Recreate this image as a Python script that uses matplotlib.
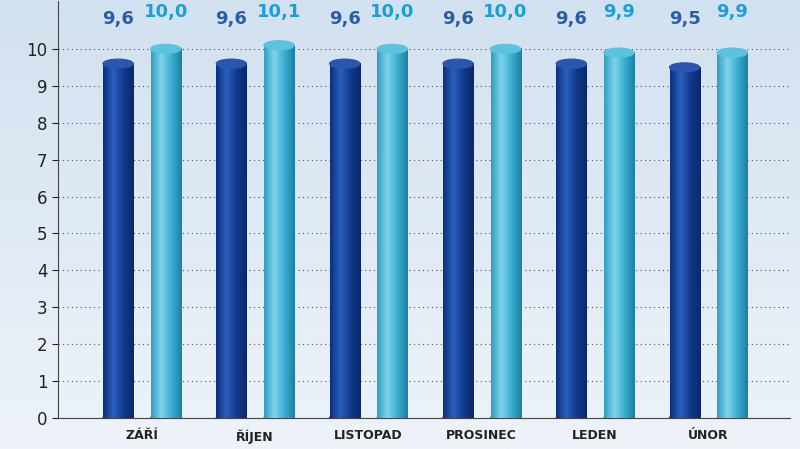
import matplotlib.pyplot as plt
import numpy as np
from matplotlib.patches import Ellipse

categories = ["ZÁŘÍ", "ŘÍJEN", "LISTOPAD", "PROSINEC", "LEDEN", "ÚNOR"]
series_a = [9.6, 9.6, 9.6, 9.6, 9.6, 9.5]
series_b = [10.0, 10.1, 10.0, 10.0, 9.9, 9.9]
labels_a = ["9,6", "9,6", "9,6", "9,6", "9,6", "9,5"]
labels_b = ["10,0", "10,1", "10,0", "10,0", "9,9", "9,9"]

fig = plt.figure(figsize=(8, 4.49), dpi=100)
# background
bg = fig.add_axes([0, 0, 1, 1])
grad = np.linspace(0, 1, 256).reshape(-1, 1)
bg.imshow(grad, extent=[0, 1, 0, 1], aspect="auto",
          cmap=plt.matplotlib.colors.LinearSegmentedColormap.from_list("bg", ["#d2e1f0", "#eef3f9"]))
bg.axis("off")

ax = fig.add_axes([0.0725, 0.069, 0.915, 0.929])
ax.patch.set_alpha(0)
ax.set_xlim(-0.74, 5.72)
ax.set_ylim(0, 11.3)
ax.set_yticks(range(0, 11))
ax.tick_params(axis="y", labelsize=12, length=4, colors="#222222")
ax.tick_params(axis="x", length=0, labelsize=9, pad=8)
ax.set_xticks(range(len(categories)))
ax.set_xticklabels(categories, fontweight="bold", color="#222222")
ax.grid(axis="y", linestyle=(0, (1, 3)), color="#555555", linewidth=0.8)
for s in ["top", "right"]:
    ax.spines[s].set_visible(False)
ax.spines["left"].set_color("#444444")
ax.spines["bottom"].set_color("#444444")
ax.set_axisbelow(True)

w = 0.265
off = 0.21
ry = 0.12
cmap_a = plt.matplotlib.colors.LinearSegmentedColormap.from_list("a", ["#0d2f7a", "#2a5fc0", "#123a8c", "#0a2868"])
cmap_b = plt.matplotlib.colors.LinearSegmentedColormap.from_list("b", ["#2f9ec0", "#7fd4ea", "#3aaed0", "#1c7fa5"])
hgrad = np.linspace(0, 1, 128).reshape(1, -1)

def cylinder(xc, h, cmap, topc):
    ax.imshow(hgrad, extent=[xc - w / 2, xc + w / 2, 0, h], aspect="auto", cmap=cmap, zorder=3)
    ax.add_patch(Ellipse((xc, 0), w, 2 * ry, color=cmap(0.9), zorder=2.9))
    ax.add_patch(Ellipse((xc, h), w, 2 * ry, color=topc, zorder=4))

for i in range(len(categories)):
    cylinder(i - off, series_a[i], cmap_a, "#2b56b0")
    cylinder(i + off, series_b[i], cmap_b, "#5cc3de")
    ax.text(i - off, 10.8, labels_a[i], ha="center", va="center", fontsize=13,
            fontweight="bold", color="#2a5caa", zorder=5)
    ax.text(i + off, 11.0, labels_b[i], ha="center", va="center", fontsize=13,
            fontweight="bold", color="#1aa0d8", zorder=5)

ax.set_xlim(-0.74, 5.72)
ax.set_ylim(0, 11.3)
fig.savefig("out.png", dpi=100)
